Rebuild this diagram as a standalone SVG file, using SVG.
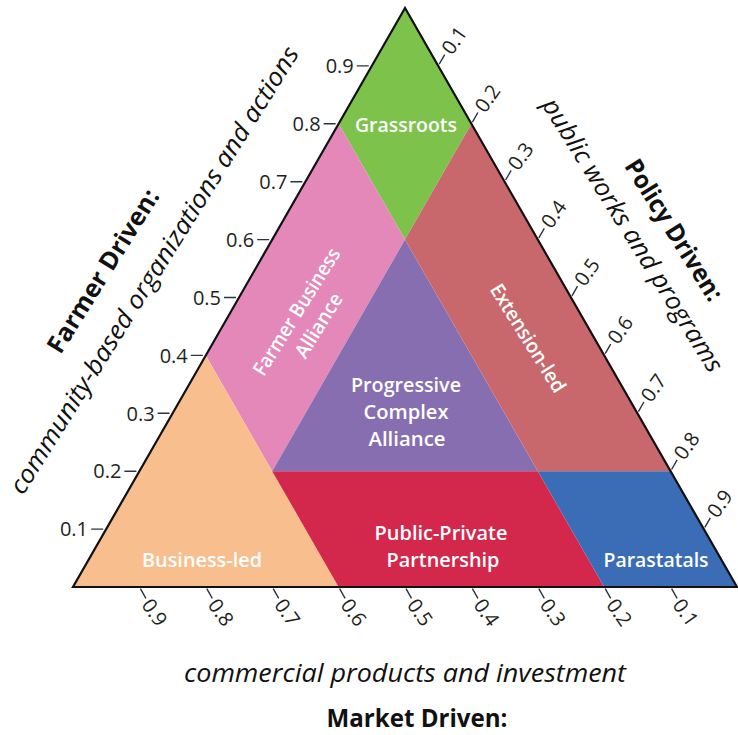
<svg xmlns="http://www.w3.org/2000/svg" width="738" height="735" viewBox="0 0 738 735">
<style>
.lbl{font-family:"Open Sans","Noto Sans",sans-serif;font-weight:600;font-size:20px;fill:#ffffff;text-anchor:middle}
.tk{font-family:"Open Sans","Noto Sans",sans-serif;font-size:20px;fill:#231f20}
.tkl{text-anchor:end}
.tick{stroke:#2a3442;stroke-width:1.4;fill:none}
.ttl{font-family:"Open Sans","Noto Sans",sans-serif;font-weight:700;font-size:25px;fill:#111;text-anchor:middle}
.sub{font-family:"Open Sans","Noto Sans",sans-serif;font-style:italic;font-size:25px;fill:#111;text-anchor:middle}
</style>
<rect width="738" height="735" fill="#ffffff"/>
<g id="regions">
<g id="grassroots"><polygon points="405,8 338.6,123.8 405,239.6 471.4,123.8" fill="#7dc34b"/><text class="lbl" x="406" y="132" textLength="102" lengthAdjust="spacingAndGlyphs">Grassroots</text></g>
<g id="farmer-business-alliance"><polygon points="205.8,355.4 338.6,123.8 405,239.6 272.2,471.2" fill="#e487b9"/>
<text class="lbl" transform="translate(307.5,318.5) rotate(-58)"><tspan x="0" y="-6" textLength="146" lengthAdjust="spacingAndGlyphs">Farmer Business</tspan><tspan x="0" y="20" textLength="72" lengthAdjust="spacingAndGlyphs">Alliance</tspan></text></g>
<g id="progressive-complex-alliance"><polygon points="405,239.6 272.2,471.2 537.8,471.2" fill="#866eb0"/>
<text class="lbl"><tspan x="406" y="392" textLength="110" lengthAdjust="spacingAndGlyphs">Progressive</tspan><tspan x="406" y="419" textLength="85" lengthAdjust="spacingAndGlyphs">Complex</tspan><tspan x="407" y="446" textLength="77" lengthAdjust="spacingAndGlyphs">Alliance</tspan></text></g>
<g id="extension-led"><polygon points="471.4,123.8 405,239.6 537.8,471.2 670.6,471.2" fill="#c9686c"/>
<text class="lbl" transform="translate(528,338) rotate(58)" x="0" y="7" textLength="124" lengthAdjust="spacingAndGlyphs">Extension-led</text></g>
<g id="business-led"><polygon points="73,587 205.8,355.4 338.6,587" fill="#f9be8e"/>
<text class="lbl" x="202" y="567" textLength="120" lengthAdjust="spacingAndGlyphs">Business-led</text></g>
<g id="public-private-partnership"><polygon points="272.2,471.2 537.8,471.2 604.2,587 338.6,587" fill="#d3284b"/>
<text class="lbl"><tspan x="441" y="540" textLength="133" lengthAdjust="spacingAndGlyphs">Public-Private</tspan><tspan x="443" y="567" textLength="113" lengthAdjust="spacingAndGlyphs">Partnership</tspan></text></g>
<g id="parastatals"><polygon points="537.8,471.2 670.6,471.2 737,587 604.2,587" fill="#3b6db6"/>
<text class="lbl" x="656" y="567" textLength="105" lengthAdjust="spacingAndGlyphs">Parastatals</text></g>
</g>
<g id="frame"><polygon points="405,8 73,587 737,587" fill="none" stroke="#111" stroke-width="2.2" stroke-linejoin="miter"/></g>
<g id="connectors">
<g id="left-ticks">
<path class="tick" d="M91.2,529.1H103.2M124.4,471.2H136.4M157.6,413.3H169.6M190.8,355.4H202.8M224,297.5H236M257.2,239.6H269.2M290.4,181.7H302.4M323.6,123.8H335.6M356.8,65.9H368.8"/>
</g>
<g id="right-ticks">
<path class="tick" d="M439.2,64.2L444.7,54.6M472.4,122.1L477.9,112.5M505.6,180L511.1,170.4M538.8,237.9L544.3,228.3M572,295.8L577.5,286.2M605.2,353.7L610.7,344.1M638.4,411.6L643.9,402M671.6,469.5L677.1,459.9M704.8,527.4L710.3,517.8"/>
</g>
<g id="bottom-ticks">
<path class="tick" d="M140.4,588.7L145.9,598.3M206.8,588.7L212.3,598.3M273.2,588.7L278.7,598.3M339.6,588.7L345.1,598.3M406,588.7L411.5,598.3M472.4,588.7L477.9,598.3M538.8,588.7L544.3,598.3M605.2,588.7L610.7,598.3M671.6,588.7L677.1,598.3"/>
</g>
</g>
<g id="left-axis-labels">
<text class="tk tkl" x="88" y="536.3">0.1</text>
<text class="tk tkl" x="121.4" y="478.4">0.2</text>
<text class="tk tkl" x="154.6" y="420.5">0.3</text>
<text class="tk tkl" x="187.8" y="362.6">0.4</text>
<text class="tk tkl" x="221" y="304.7">0.5</text>
<text class="tk tkl" x="254.2" y="246.8">0.6</text>
<text class="tk tkl" x="287.4" y="188.9">0.7</text>
<text class="tk tkl" x="320.6" y="131">0.8</text>
<text class="tk tkl" x="353.8" y="73.1">0.9</text>
</g>
<g id="right-axis-labels">
<text class="tk" transform="translate(446.2,52) rotate(-55)" dy="0.35em">0.1</text>
<text class="tk" transform="translate(479.4,109.9) rotate(-55)" dy="0.35em">0.2</text>
<text class="tk" transform="translate(512.6,167.8) rotate(-55)" dy="0.35em">0.3</text>
<text class="tk" transform="translate(545.8,225.7) rotate(-55)" dy="0.35em">0.4</text>
<text class="tk" transform="translate(579,283.6) rotate(-55)" dy="0.35em">0.5</text>
<text class="tk" transform="translate(612.2,341.5) rotate(-55)" dy="0.35em">0.6</text>
<text class="tk" transform="translate(645.4,399.4) rotate(-55)" dy="0.35em">0.7</text>
<text class="tk" transform="translate(678.6,457.3) rotate(-55)" dy="0.35em">0.8</text>
<text class="tk" transform="translate(711.8,515.2) rotate(-55)" dy="0.35em">0.9</text>
</g>
<g id="bottom-axis-labels">
<text class="tk" transform="translate(146.4,600.9) rotate(55)" dy="0.35em">0.9</text>
<text class="tk" transform="translate(212.8,600.9) rotate(55)" dy="0.35em">0.8</text>
<text class="tk" transform="translate(279.2,600.9) rotate(55)" dy="0.35em">0.7</text>
<text class="tk" transform="translate(345.6,600.9) rotate(55)" dy="0.35em">0.6</text>
<text class="tk" transform="translate(412,600.9) rotate(55)" dy="0.35em">0.5</text>
<text class="tk" transform="translate(478.4,600.9) rotate(55)" dy="0.35em">0.4</text>
<text class="tk" transform="translate(544.8,600.9) rotate(55)" dy="0.35em">0.3</text>
<text class="tk" transform="translate(611.2,600.9) rotate(55)" dy="0.35em">0.2</text>
<text class="tk" transform="translate(677.6,600.9) rotate(55)" dy="0.35em">0.1</text>
</g>
<g id="axis-titles">
<text class="ttl" transform="translate(103,271) rotate(-58)" dy="0.35em" textLength="188" lengthAdjust="spacingAndGlyphs">Farmer Driven:</text>
<text class="sub" transform="translate(154,270) rotate(-58)" dy="0.35em" textLength="522" lengthAdjust="spacingAndGlyphs">community-based organizations and actions</text>
<text class="ttl" transform="translate(674,230) rotate(58)" dy="0.35em" textLength="162" lengthAdjust="spacingAndGlyphs">Policy Driven:</text>
<text class="sub" transform="translate(633,235) rotate(58)" dy="0.35em" textLength="318" lengthAdjust="spacingAndGlyphs">public works and programs</text>
<text class="sub" x="405" y="682" textLength="442" lengthAdjust="spacingAndGlyphs">commercial products and investment</text>
<text class="ttl" x="417" y="727" textLength="181" lengthAdjust="spacingAndGlyphs">Market Driven:</text>
</g>
</svg>
